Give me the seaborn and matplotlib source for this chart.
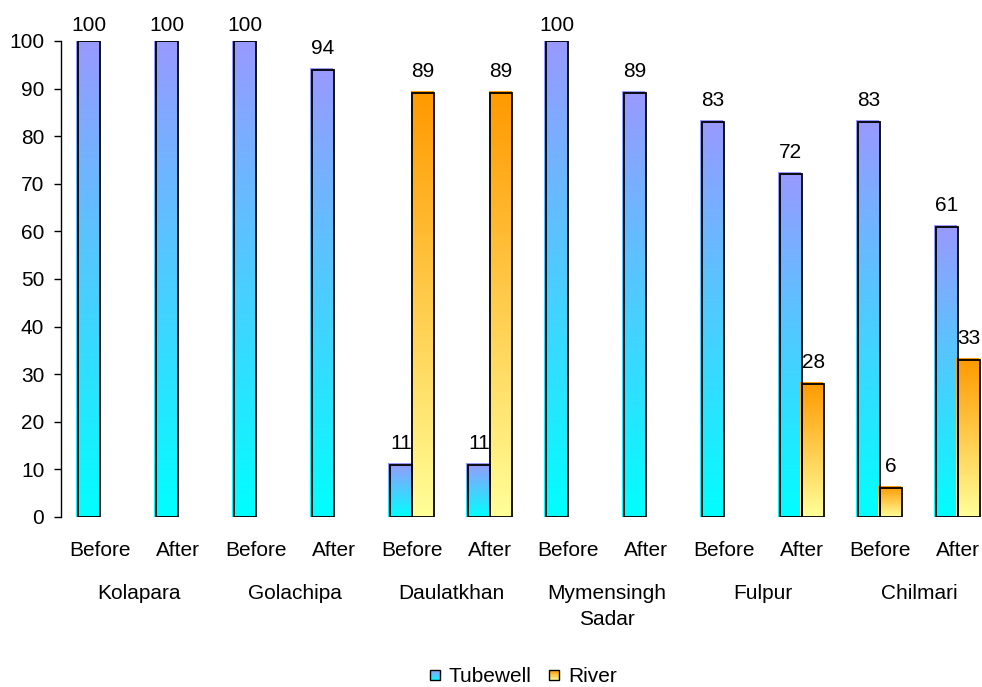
import numpy as np
import pandas as pd
import matplotlib
matplotlib.use("Agg")
import matplotlib.pyplot as plt
import matplotlib.transforms as mtransforms
from matplotlib.colors import LinearSegmentedColormap
from matplotlib.patches import Rectangle
from matplotlib.legend_handler import HandlerBase
import seaborn as sns

# ---- data -------------------------------------------------------------
locations = ["Kolapara", "Golachipa", "Daulatkhan", "Mymensingh\nSadar", "Fulpur", "Chilmari"]
periods = ["Before", "After"]
series = ["Tubewell", "River"]
# one value per (location, period), in the order above
tubewell = [100, 100, 100, 94, 11, 11, 100, 89, 83, 72, 83, 61]
river = [0, 0, 0, 0, 89, 89, 0, 0, 0, 28, 6, 33]
yticks = list(range(0, 101, 10))

# bottom -> top colour ramp for each source
ramps = {"Tubewell": ("#00FFFF", "#9999FF"), "River": ("#FFFF99", "#FF9900")}

slots = [f"{loc}|{p}" for loc in locations for p in periods]
df = pd.DataFrame({
    "slot": slots * 2,
    "source": ["Tubewell"] * len(slots) + ["River"] * len(slots),
    "share": tubewell + river,
})

# ---- style ------------------------------------------------------------
sns.set_style("ticks")
plt.rcParams["font.family"] = ["Liberation Sans", "DejaVu Sans"]
plt.rcParams["font.size"] = 15
plt.rcParams["text.color"] = "black"
plt.rcParams["xtick.color"] = "black"
plt.rcParams["ytick.color"] = "black"
FS = 15

W, H = 982, 687
fig = plt.figure(figsize=(W / 100, H / 100), dpi=100)
ax = fig.add_axes([61 / W, 170 / H, 936 / W, 476 / H])

cmaps = {k: LinearSegmentedColormap.from_list(k, v) for k, v in ramps.items()}
mid = {k: cmaps[k](0.5) for k in series}

sns.barplot(data=df, x="slot", y="share", hue="source", order=slots,
            hue_order=series, palette=mid, width=0.57, saturation=1,
            errorbar=None, edgecolor="black", linewidth=1.3, legend=False, ax=ax)

ax.set_xlim(-0.5, len(slots) - 0.5)
ax.set_ylim(0, 100)
fig.canvas.draw()

# pixel size in data units, for the slightly offset gradient fill
inv = ax.transData.inverted()
p0 = inv.transform((0, 0))
p1 = inv.transform((1, 1))
dx, dy = p1[0] - p0[0], p1[1] - p0[1]

grad = np.linspace(0, 1, 256).reshape(-1, 1)
top_limit = H - 31  # value labels stay below this (display px)

values = {"Tubewell": tubewell, "River": river}
for container, name in zip(ax.containers, series):
    for bar, val in zip(container, values[name]):
        if val == 0:
            bar.set_visible(False)
            continue
        x0, w, h = bar.get_x(), bar.get_width(), bar.get_height()
        bar.set_facecolor("none")
        bar.set_edgecolor("black")
        bar.set_zorder(3)
        ax.imshow(grad, cmap=cmaps[name], origin="lower", aspect="auto",
                  extent=(x0 - 1.5 * dx, x0 + w - 1.5 * dx, 0, h + 1.5 * dy),
                  interpolation="bilinear", zorder=2)
        cx = x0 + w / 2
        top_px = ax.transData.transform((cx, h))[1]
        off = min(12, top_limit - 4 - top_px)
        ax.annotate(f"{val:g}", (cx, h), xytext=(0, off), textcoords="offset pixels",
                    ha="center", va="bottom", fontsize=FS, annotation_clip=False,
                    zorder=2.5, color="black")

ax.set_xlim(-0.5, len(slots) - 0.5)
ax.set_ylim(0, 100)

# ---- axes -------------------------------------------------------------
sns.despine(ax=ax, top=True, right=True, bottom=True)
ax.spines["left"].set_color("black")
ax.spines["left"].set_linewidth(1.0)
ax.set_yticks(yticks)
ax.tick_params(axis="y", length=5, width=1, color="black", pad=7, labelsize=FS,
               labelcolor="black")
ax.set_xticks(range(len(slots)))
ax.set_xticklabels([p for _ in locations for p in periods])
ax.tick_params(axis="x", length=0, pad=17, labelsize=FS, labelcolor="black")
ax.set_xlabel("")
ax.set_ylabel("")
ax.grid(False)

# location names under each Before/After pair
blend = mtransforms.blended_transform_factory(ax.transData, ax.transAxes)
shift = mtransforms.ScaledTranslation(0, -67 / 100, fig.dpi_scale_trans)
for i, loc in enumerate(locations):
    ax.text(2 * i + 0.5, 0, loc, transform=blend + shift,
            ha="center", va="top", fontsize=FS, linespacing=1.45, color="black")


# ---- legend with small ramp-filled squares ----------------------------
class RampHandler(HandlerBase):
    def __init__(self, cmap):
        super().__init__()
        self.cmap = cmap

    def create_artists(self, legend, orig_handle, xdescent, ydescent,
                       width, height, fontsize, trans):
        s = 7.5
        x = -xdescent + (width - s) / 2
        y = -ydescent + (height - s) / 2
        n = 8
        arts = []
        for k in range(n):
            r = Rectangle((x, y + k * s / n), s, s / n + 0.05,
                          facecolor=self.cmap((k + 0.5) / n), edgecolor="none",
                          transform=trans)
            arts.append(r)
        arts.append(Rectangle((x, y), s, s, facecolor="none", edgecolor="black",
                              linewidth=1.0, transform=trans))
        return arts


handles = [Rectangle((0, 0), 1, 1) for _ in series]
fig.legend(handles, series, loc="center", bbox_to_anchor=(523 / W, 10 / H),
           ncol=2, frameon=False, fontsize=FS, handlelength=0.55,
           handletextpad=0.4, columnspacing=0.8, borderaxespad=0, borderpad=0,
           handler_map={h: RampHandler(cmaps[n]) for h, n in zip(handles, series)})

fig.savefig("out.png", dpi=100)
